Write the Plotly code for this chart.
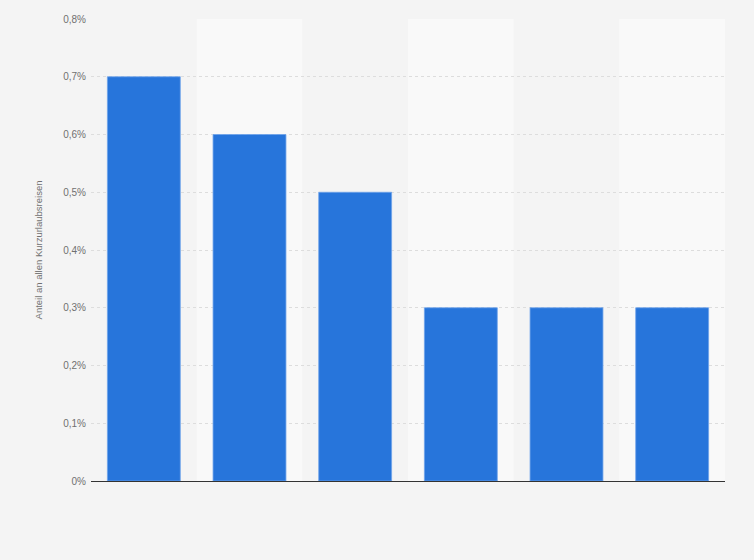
import plotly.graph_objects as go

categories = ["Kategorie 1", "Kategorie 2", "Kategorie 3", "Kategorie 4", "Kategorie 5", "Kategorie 6"]
values = [0.7, 0.6, 0.5, 0.3, 0.3, 0.3]
tick_vals = [0, 0.1, 0.2, 0.3, 0.4, 0.5, 0.6, 0.7, 0.8]
tick_text = ["0%", "0,1%", "0,2%", "0,3%", "0,4%", "0,5%", "0,6%", "0,7%", "0,8%"]
y_title = "Anteil an allen Kurzurlaubsreisen"

fig = go.Figure()
fig.add_trace(go.Bar(
    x=categories, y=values,
    marker=dict(color="#2775db", line=dict(color="#6fa3ea", width=0.8)),
    hoverinfo="x+y",
))

shapes = []
for i, _ in enumerate(categories):
    if i % 2 == 1:
        shapes.append(dict(type="rect", xref="x", yref="paper",
                           x0=i - 0.5, x1=i + 0.5, y0=0, y1=1,
                           fillcolor="#f9f9f9", line=dict(width=0), layer="below"))

fig.update_layout(
    width=754, height=560,
    paper_bgcolor="#f4f4f4", plot_bgcolor="#f4f4f4",
    margin=dict(l=91, r=29, t=19, b=79),
    bargap=0.31,
    showlegend=False,
    shapes=shapes,
    font=dict(family="Liberation Sans, Arial, sans-serif", color="#666666", size=10),
    xaxis=dict(showticklabels=False, showgrid=False, zeroline=False,
               showline=False, ticks="", range=[-0.5, len(categories) - 0.5]),
    yaxis=dict(range=[0, 0.8], tickvals=tick_vals, ticktext=tick_text,
               showgrid=True, gridcolor="#dddddd", griddash="dot", gridwidth=1,
               zeroline=True, zerolinecolor="#333333", zerolinewidth=1.3,
               ticks="", ticklabelstandoff=4,
               tickfont=dict(size=10, color="#707070"),
               title=dict(text=y_title, font=dict(size=9.5, color="#707070"), standoff=18)),
)

fig.write_html("out.html",
               config={"displayModeBar": False},
               post_script="document.body.style.margin='0';document.body.style.background='#f4f4f4';")
